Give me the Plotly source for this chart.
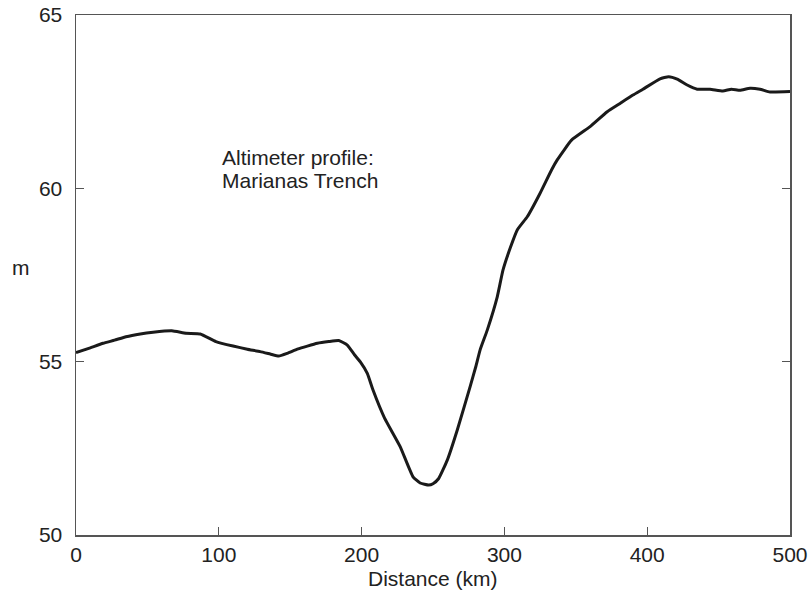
import plotly.graph_objects as go

distance_km = [0, 10, 19, 27, 35, 45, 54, 67, 77, 87, 98, 110, 120, 129, 136, 142,
               148, 155, 162, 169, 177, 184, 190, 195, 199, 204, 208, 216, 227, 236,
               241, 247, 250, 254, 260, 267, 276, 280, 283, 288, 295, 299, 304, 309,
               316, 325, 333, 337, 347, 360, 372, 381, 390, 397, 409, 415, 421, 428,
               435, 444, 453, 459, 465, 472, 479, 486, 500]
height_m = [55.26, 55.40, 55.53, 55.62, 55.72, 55.80, 55.85, 55.89, 55.82, 55.80, 55.58,
            55.45, 55.36, 55.29, 55.22, 55.16, 55.24, 55.36, 55.45, 55.53, 55.58, 55.61,
            55.48, 55.20, 55.00, 54.66, 54.18, 53.38, 52.55, 51.68, 51.50, 51.44, 51.48,
            51.63, 52.16, 53.03, 54.28, 54.86, 55.34, 55.91, 56.87, 57.64, 58.27, 58.80,
            59.18, 59.86, 60.53, 60.82, 61.39, 61.78, 62.21, 62.45, 62.69, 62.86, 63.16,
            63.22, 63.15, 62.98, 62.86, 62.86, 62.81, 62.86, 62.83, 62.89, 62.86, 62.78,
            62.79]

x_ticks = [0, 100, 200, 300, 400, 500]
y_ticks = [50, 55, 60, 65]

FONT = "Liberation Sans, Arial, sans-serif"
TXT = "#222222"
AX = "#555555"
FS = 21

fig = go.Figure()
fig.add_trace(go.Scatter(
    x=distance_km, y=height_m, mode="lines",
    line=dict(color="#1a1a1a", width=3, shape="spline", smoothing=0.4),
    hoverinfo="skip", showlegend=False, cliponaxis=False,
))

fig.update_layout(
    width=809, height=597,
    margin=dict(l=76, r=19, t=15, b=62, autoexpand=False),
    paper_bgcolor="white", plot_bgcolor="white",
    font=dict(family=FONT, size=FS, color=TXT),
    hovermode=False,
    xaxis=dict(
        range=[0, 500], tickvals=x_ticks, ticktext=[str(v) for v in x_ticks],
        ticks="inside", ticklen=8, tickwidth=1, tickcolor=AX,
        showline=True, linecolor=AX, linewidth=1.5, mirror=True,
        showgrid=False, zeroline=False, automargin=False,
        ticklabeloverflow="allow",
        tickfont=dict(family=FONT, size=FS, color=TXT),
    ),
    yaxis=dict(
        range=[50, 65], tickvals=y_ticks, ticktext=[str(v) for v in y_ticks],
        ticks="inside", ticklen=8, tickwidth=1, tickcolor=AX,
        showline=True, linecolor=AX, linewidth=1.5, mirror="ticks",
        showgrid=False, zeroline=False, ticklabelstandoff=8, automargin=False,
        ticklabeloverflow="allow",
        tickfont=dict(family=FONT, size=FS, color=TXT),
    ),
    annotations=[
        dict(text="Distance (km)", xref="paper", yref="paper", x=0.5, y=-0.083,
             xanchor="center", yanchor="middle", showarrow=False,
             font=dict(family=FONT, size=FS, color=TXT)),
        dict(text="m", xref="paper", yref="paper", x=-0.077, y=0.515,
             xanchor="center", yanchor="middle", showarrow=False,
             font=dict(family=FONT, size=FS, color=TXT)),
        dict(text="Altimeter profile:", xref="x", yref="y", x=101, y=60.9,
             xanchor="left", yanchor="middle", showarrow=False,
             font=dict(family=FONT, size=FS, color=TXT)),
        dict(text="Marianas Trench", xref="x", yref="y", x=101, y=60.23,
             xanchor="left", yanchor="middle", showarrow=False,
             font=dict(family=FONT, size=FS, color=TXT)),
    ],
)

fig.write_html(
    "out.html",
    config={"displayModeBar": False, "staticPlot": True},
    post_script="document.body.style.margin='0';document.body.style.overflow='hidden';",
)
